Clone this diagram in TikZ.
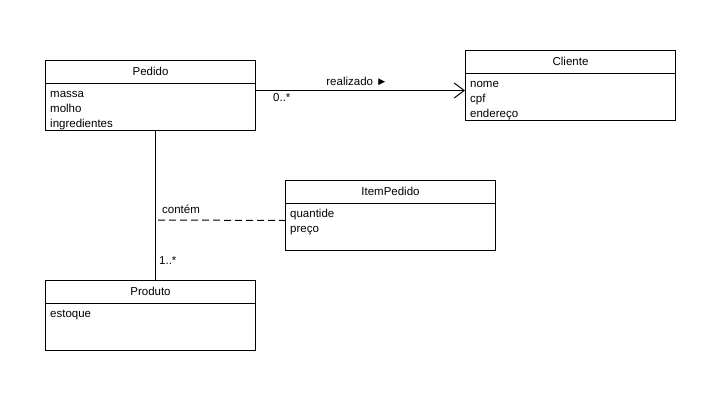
\documentclass[tikz,border=0pt]{standalone}
\usepackage{fontspec}
\setmainfont{Liberation Sans}
\usetikzlibrary{arrows.meta,calc}
\tikzset{
  cls/.style={draw, line width=1pt, minimum height=70pt, inner sep=0pt, anchor=north west, fill=white},
  hdr/.style={line width=1pt},
  ttl/.style={inner sep=0pt, anchor=base, font=\fontsize{11.5}{15}\selectfont},
  attr/.style={inner sep=0pt, anchor=base west, font=\fontsize{11.5}{15}\selectfont},
  lbl/.style={inner sep=0pt, font=\fontsize{11.5}{15}\selectfont},
  assoc/.style={line width=1pt},
  navig/.style={line width=1pt, -{Straight Barb[length=10pt,width=15pt,line width=1pt]}},
  link/.style={line width=1pt, dash pattern=on 7pt off 4pt}
}
\newcommand{\UClass}[6]{%
  \node[cls, minimum width=#4pt] (#1) at (#2,#3) {};
  \draw[hdr] ([yshift=-23pt]#1.north west) -- ([yshift=-23pt]#1.north east);
  \node[ttl] (#1-t) at ($(#1.north)+(0,15.5)$) {#5};
  \foreach \a [count=\i] in {#6} {
    \node[attr] (#1-a\i) at ($(#1.north west)+(5,22+15*\i)$) {\a};
  }%
}
\begin{document}
\begin{tikzpicture}[x=1pt,y=-1pt]
\useasboundingbox[fill=white] (0,0) rectangle (719,404);
\UClass{pedido}{45}{60}{210}{Pedido}{massa,molho,ingredientes}
\UClass{cliente}{465}{50}{210}{Cliente}{nome,cpf,endereço}
\UClass{item}{285}{180}{210}{ItemPedido}{quantide,preço}
\UClass{produto}{45}{280}{210}{Produto}{estoque}

\draw[navig] ([yshift=5pt]pedido.east) -- ([yshift=-5pt]cliente.west);
\node[lbl] (lreal) at (357,81) {realizado ►};
\node[lbl, anchor=west] (lmult1) at (273,98) {0..*};

\draw[assoc] ([xshift=5pt]pedido.south) -- ([xshift=5pt]produto.north);
\coordinate (cjoin) at (158,220);
\draw[link] (cjoin) -- ([yshift=-5pt]item.west);
\node[lbl, anchor=west] (lcont) at (162,209) {contém};
\node[lbl, anchor=west] (lmult2) at (159,261) {1..*};
\end{tikzpicture}
\end{document}
